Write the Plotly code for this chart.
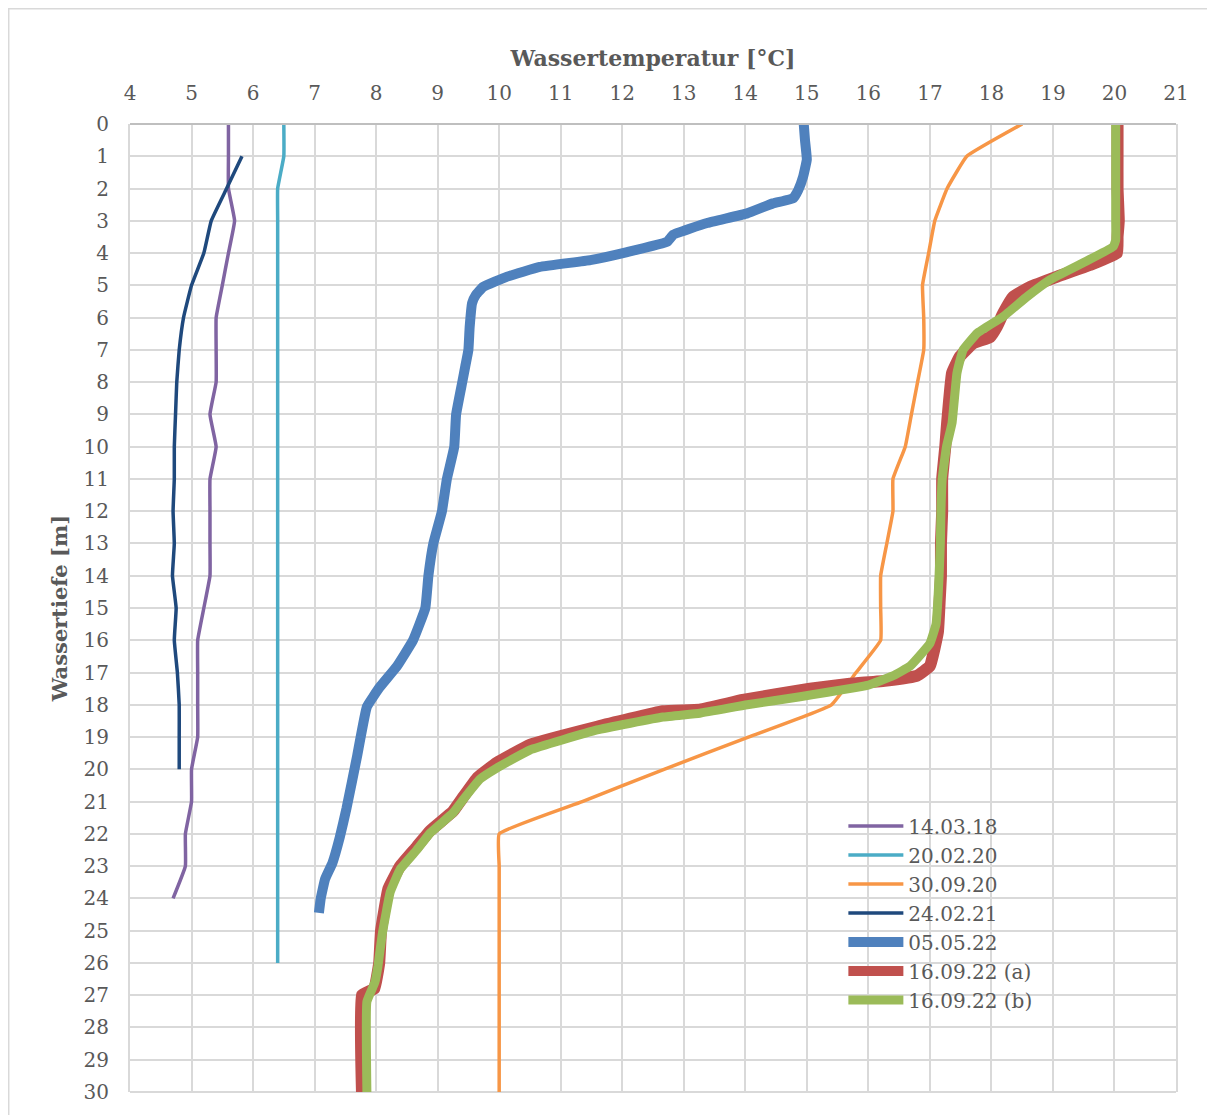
import plotly.graph_objects as go

# ---- data (depth in m, temperature in °C) ----
depth_140318 = list(range(0, 25))
temp_140318 = [5.6, 5.6, 5.6, 5.7, 5.6, 5.5, 5.4, 5.4, 5.4, 5.3, 5.4, 5.3, 5.3,
               5.3, 5.3, 5.2, 5.1, 5.1, 5.1, 5.1, 5.0, 5.0, 4.9, 4.9, 4.7]

depth_200220 = list(range(0, 27))
temp_200220 = [6.5, 6.5] + [6.4] * 25

depth_300920 = list(range(0, 31))
temp_300920 = [18.5, 17.6, 17.28, 17.08, 16.98, 16.88, 16.9, 16.9, 16.8, 16.7,
               16.6, 16.4, 16.4, 16.3, 16.2, 16.2, 16.2, 15.8, 15.4, 14.05,
               12.68, 11.35, 10.0, 10.0, 10.0, 10.0, 10.0, 10.0, 10.0, 10.0, 10.0]

depth_240221 = list(range(1, 21))
temp_240221 = [5.82, 5.57, 5.32, 5.2, 5.0, 4.87, 4.8, 4.76, 4.74, 4.72, 4.72,
               4.7, 4.72, 4.69, 4.75, 4.72, 4.77, 4.8, 4.8, 4.8]

depth_050522 = [0.0, 0.5, 1.1, 1.63, 2.05, 2.3, 2.46, 2.77, 3.07, 3.43, 3.65,
                3.97, 4.22, 4.43, 4.73, 5.05, 5.3, 5.55, 6.3, 7.0, 7.5, 8.0,
                9.0, 10.0, 11.0, 12.0, 13.0, 14.0, 15.0, 16.0, 16.8, 17.45,
                18.06, 19.6, 21.2, 22.1, 22.9, 23.4, 24.0, 24.45]
temp_050522 = [14.95, 14.97, 15.0, 14.94, 14.86, 14.78, 14.45, 14.03, 13.38,
               12.83, 12.73, 12.08, 11.48, 10.66, 10.13, 9.74, 9.62, 9.56,
               9.52, 9.5, 9.45, 9.4, 9.3, 9.27, 9.15, 9.07, 8.93, 8.85, 8.8,
               8.6, 8.34, 8.06, 7.85, 7.69, 7.52, 7.41, 7.29, 7.17, 7.1, 7.07]

depth_160922a = [0.0, 1.0, 2.0, 3.0, 3.5, 4.0, 4.37, 4.73, 5.05, 5.36, 5.87,
                 6.28, 6.6, 6.8, 7.2, 7.72, 9.27, 10.0, 11.0, 12.0, 13.0, 14.0,
                 14.75, 15.75, 16.8, 17.1, 17.25, 17.35, 17.5, 17.85, 18.15,
                 18.2, 18.68, 19.24, 19.8, 20.25, 20.9, 21.3, 21.9, 22.4, 23.0,
                 23.7, 25.0, 26.0, 26.8, 27.0, 30.0]
temp_160922a = [20.05, 20.05, 20.05, 20.07, 20.05, 20.04, 19.6, 19.07, 18.63,
                18.35, 18.19, 18.09, 17.98, 17.7, 17.49, 17.36, 17.28, 17.25,
                17.2, 17.2, 17.18, 17.18, 17.16, 17.13, 17.0, 16.79, 16.3,
                15.7, 15.05, 13.96, 13.26, 12.66, 11.59, 10.5, 9.96, 9.65,
                9.4, 9.25, 8.88, 8.66, 8.39, 8.2, 8.08, 8.05, 7.97, 7.77, 7.77]

depth_160922b = [0.0, 1.0, 2.0, 3.0, 3.6, 3.8, 4.3, 4.83, 5.35, 5.97, 6.48,
                 7.0, 7.72, 9.27, 10.0, 11.0, 12.0, 13.0, 14.0, 14.75, 15.5,
                 16.1, 16.8, 17.1, 17.4, 17.75, 18.0, 18.26, 18.38, 18.78,
                 19.4, 19.96, 20.3, 20.95, 21.35, 21.97, 22.5, 23.1, 23.8,
                 25.1, 26.1, 26.6, 27.2, 30.0]
temp_160922b = [20.02, 20.02, 20.02, 20.02, 20.02, 19.98, 19.49, 18.95, 18.58,
                18.19, 17.77, 17.54, 17.44, 17.36, 17.27, 17.2, 17.18, 17.17,
                17.15, 17.13, 17.1, 17.0, 16.68, 16.4, 15.98, 14.89, 14.03,
                13.26, 12.66, 11.59, 10.5, 9.96, 9.69, 9.41, 9.25, 8.88, 8.66,
                8.39, 8.23, 8.1, 8.03, 7.98, 7.85, 7.85]

x_ticks = list(range(4, 22))
y_ticks = list(range(0, 31))

series = [
    ("14.03.18", temp_140318, depth_140318, "#8064A2", 3.5),
    ("20.02.20", temp_200220, depth_200220, "#4BACC6", 3.5),
    ("30.09.20", temp_300920, depth_300920, "#F79646", 3.5),
    ("24.02.21", temp_240221, depth_240221, "#1F497D", 3.5),
    ("05.05.22", temp_050522, depth_050522, "#4F81BD", 10),
    ("16.09.22 (a)", temp_160922a, depth_160922a, "#C0504D", 12),
    ("16.09.22 (b)", temp_160922b, depth_160922b, "#9BBB59", 9),
]

fig = go.Figure()
for name, t, d, color, w in series:
    fig.add_trace(go.Scatter(x=t, y=d, mode="lines", name=name,
                             line=dict(color=color, width=w, shape="spline", smoothing=0.3)))

font_txt = "DejaVu Serif"
grey = "#595959"
grid = "#D9D9D9"

L, T, PW, PH = 122, 116, 1046, 968
W, H = 1215, 1115

fig.update_layout(
    width=W, height=H,
    margin=dict(l=L, r=W - L - PW, t=T, b=H - T - PH),
    paper_bgcolor="white", plot_bgcolor="white",
    font=dict(family=font_txt, size=20, color=grey),
    showlegend=True,
    legend=dict(x=0.682, y=0.295, xanchor="left", yanchor="top",
                bgcolor="rgba(0,0,0,0)", font=dict(family=font_txt, size=20, color=grey),
                itemwidth=55, tracegroupgap=0),
    xaxis=dict(range=[4, 21], side="top", tickvals=x_ticks, ticktext=[str(v) for v in x_ticks],
               showgrid=True, gridcolor=grid, gridwidth=2, zeroline=False,
               showline=False, ticks="", ticklabelstandoff=19,
               tickfont=dict(family=font_txt, size=20, color=grey),
               title=dict(text="<b>Wassertemperatur [°C]</b>",
                          font=dict(family=font_txt, size=22, color=grey), standoff=8)),
    yaxis=dict(range=[30, 0], tickvals=y_ticks, ticktext=[str(v) for v in y_ticks],
               showgrid=True, gridcolor=grid, gridwidth=2, zeroline=False,
               showline=True, linecolor=grid, linewidth=2, mirror=True, ticks="",
               ticklabelstandoff=15,
               tickfont=dict(family=font_txt, size=20, color=grey),
               title=dict(text="<b>Wassertiefe [m]</b>",
                          font=dict(family=font_txt, size=21, color=grey), standoff=10)),
    shapes=[
        dict(type="line", xref="paper", yref="paper", x0=0, x1=1, y0=1, y1=1,
             line=dict(color="#BFBFBF", width=2), layer="above"),
        dict(type="line", xref="paper", yref="paper", x0=0, x1=1, y0=0, y1=0,
             line=dict(color=grid, width=2), layer="below"),
        # outer chart frame (left and top edges are the visible ones)
        dict(type="line", xref="paper", yref="paper",
             x0=-L / PW + 0.0007, x1=-L / PW + 0.0007, y0=-(H - T - PH) / PH, y1=(PH + T) / PH,
             line=dict(color=grid, width=1.5), layer="below"),
        dict(type="line", xref="paper", yref="paper",
             x0=-L / PW, x1=(W - L) / PW, y0=(PH + T) / PH - 0.0008, y1=(PH + T) / PH - 0.0008,
             line=dict(color=grid, width=1.5), layer="below"),
    ],
)

fig.write_html("out.html")
